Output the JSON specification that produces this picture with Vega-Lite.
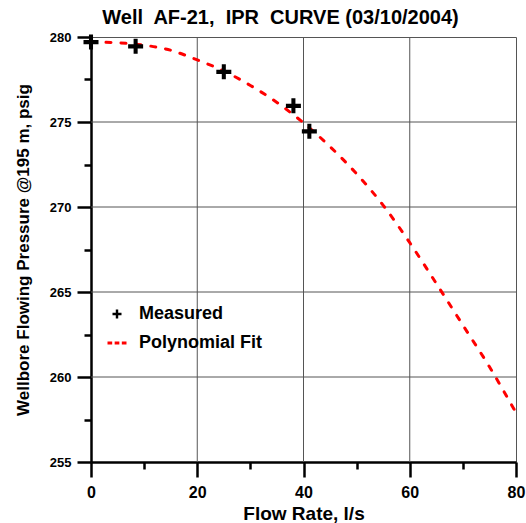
{
  "$schema": "https://vega.github.io/schema/vega-lite/v6.json",
  "width": 425,
  "height": 425,
  "autosize": "none",
  "padding": {"left": 91, "top": 37, "right": 10, "bottom": 61},
  "background": "white",
  "title": {
    "text": "Well\u00a0 AF-21,\u00a0 IPR\u00a0 CURVE (03/10/2004)",
    "font": "Liberation Sans",
    "fontSize": 20,
    "fontWeight": "bold",
    "color": "black",
    "anchor": "middle",
    "dx": -23,
    "offset": 3
  },
  "datasets": {
    "measured": [
      {"q": 0, "p": 279.7, "series": "Measured"},
      {"q": 8.4, "p": 279.45, "series": "Measured"},
      {"q": 25, "p": 277.95, "series": "Measured"},
      {"q": 38.1, "p": 275.95, "series": "Measured"},
      {"q": 41.1, "p": 274.45, "series": "Measured"}
    ],
    "fit": [
      {"q": 0, "p": 279.7},
      {"q": 5, "p": 279.66},
      {"q": 10, "p": 279.52},
      {"q": 15, "p": 279.22},
      {"q": 20, "p": 278.65},
      {"q": 25, "p": 278.0},
      {"q": 30, "p": 277.15},
      {"q": 35, "p": 276.15},
      {"q": 40, "p": 274.95},
      {"q": 45, "p": 273.55},
      {"q": 50, "p": 271.95},
      {"q": 55, "p": 270.1},
      {"q": 60, "p": 267.9},
      {"q": 65, "p": 265.5},
      {"q": 70, "p": 263.05},
      {"q": 75, "p": 260.6},
      {"q": 80, "p": 257.9}
    ],
    "gridx": [{"q": 20}, {"q": 40}, {"q": 60}],
    "gridy": [{"p": 260}, {"p": 265}, {"p": 270}, {"p": 275}]
  },
  "layer": [
    {
      "data": {"name": "gridx"},
      "mark": {"type": "rule", "color": "#555555", "strokeWidth": 1},
      "encoding": {
        "x": {"field": "q", "type": "quantitative", "title": "Flow Rate, l/s", "scale": {"domain": [0, 80], "nice": false, "zero": false}}
      }
    },
    {
      "data": {"name": "gridy"},
      "mark": {"type": "rule", "color": "#555555", "strokeWidth": 1},
      "encoding": {
        "y": {"field": "p", "type": "quantitative", "title": "Wellbore Flowing Pressure @195 m, psig", "scale": {"domain": [255, 280], "nice": false, "zero": false}}
      }
    },
    {
      "data": {"name": "fit"},
      "mark": {"type": "line", "color": "red", "strokeWidth": 3, "strokeDash": [5, 10], "strokeCap": "round", "interpolate": "monotone"},
      "encoding": {
        "x": {"field": "q", "type": "quantitative", "title": "Flow Rate, l/s"},
        "y": {"field": "p", "type": "quantitative", "title": "Wellbore Flowing Pressure @195 m, psig"}
      }
    },
    {
      "data": {"name": "measured"},
      "mark": {"type": "point", "filled": true, "size": 225, "opacity": 1},
      "encoding": {
        "x": {
          "field": "q",
          "type": "quantitative",
          "title": "Flow Rate, l/s",
          "scale": {"domain": [0, 80], "nice": false, "zero": false},
          "axis": {
            "grid": false,
            "values": [0, 10, 20, 30, 40, 50, 60, 70, 80],
            "labelExpr": "datum.value % 20 === 0 ? datum.label : ''",
            "tickSize": {"condition": {"test": "datum.value % 20 !== 0", "value": 7}, "value": 15},
            "labelFontSize": 16,
            "labelPadding": 7,
            "titleFontSize": 19,
            "titlePadding": 4
          }
        },
        "y": {
          "field": "p",
          "type": "quantitative",
          "title": "Wellbore Flowing Pressure @195 m, psig",
          "scale": {"domain": [255, 280], "nice": false, "zero": false},
          "axis": {
            "grid": false,
            "values": [255, 257.5, 260, 262.5, 265, 267.5, 270, 272.5, 275, 277.5, 280],
            "labelExpr": "datum.value % 5 === 0 ? datum.label : ''",
            "tickSize": {"condition": {"test": "datum.value % 5 !== 0", "value": 7}, "value": 14},
            "labelFontSize": 13,
            "labelPadding": 6,
            "titleFontSize": 17,
            "titlePadding": 17
          }
        },
        "color": {
          "field": "series",
          "type": "nominal",
          "scale": {"domain": ["Measured", "Polynomial Fit"], "range": ["black", "red"]},
          "legend": {
            "orient": "none",
            "legendX": 17,
            "legendY": 268,
            "title": null,
            "labelFont": "Liberation Sans",
            "labelFontSize": 18,
            "labelFontWeight": "bold",
            "symbolSize": 81,
            "rowPadding": 11,
            "labelOffset": 13,
            "encode": {
              "labels": {
                "update": {
                  "fill": {"signal": "datum.value === 'Measured' ? 'black' : 'red'"}
                }
              }
            }
          }
        },
        "shape": {
          "field": "series",
          "type": "nominal",
          "scale": {"domain": ["Measured", "Polynomial Fit"], "range": ["M-1,-0.27H1V0.27H-1Z M-0.27,-1H0.27V1H-0.27Z", "M-2.11,-0.33H-1.07V0.33H-2.11Z M-0.52,-0.33H0.52V0.33H-0.52Z M1.07,-0.33H2.11V0.33H1.07Z"]},
          "legend": null
        }
      }
    }
  ],
  "config": {
    "font": "Liberation Sans",
    "view": {"stroke": "#555555", "strokeWidth": 1},
    "axis": {
      "grid": false,
      "domainColor": "black",
      "domainWidth": 2.5,
      "tickColor": "black",
      "tickWidth": 2.5,
      "labelFont": "Liberation Sans",
      "labelFontWeight": "bold",
      "labelColor": "black",
      "labelOverlap": false,
      "labelFlush": false,
      "titleFont": "Liberation Sans",
      "titleFontWeight": "bold",
      "titleColor": "black"
    }
  }
}
